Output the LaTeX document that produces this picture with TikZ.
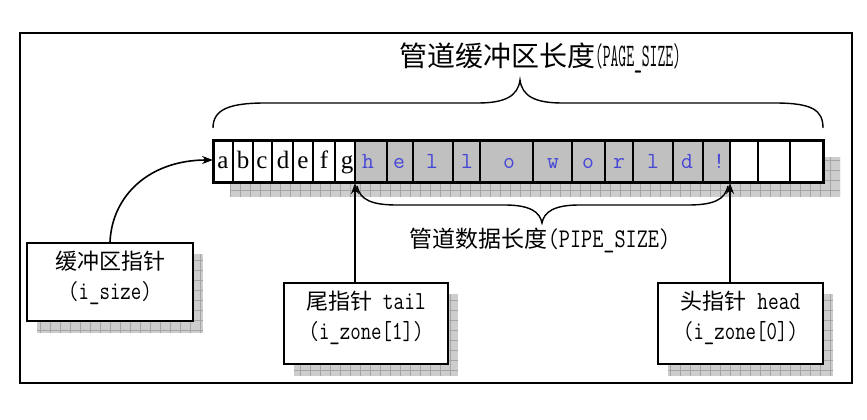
\documentclass[tikz,border=0pt]{standalone}
\usepackage{fontspec}
\usepackage{graphicx}
\setmainfont{Liberation Serif}
\newfontfamily\cjk{Noto Sans CJK SC}
\usetikzlibrary{arrows.meta}
\definecolor{cellgray}{RGB}{192,192,192}
\definecolor{shadegray}{RGB}{205,205,205}
\definecolor{gridgray}{RGB}{165,165,165}
\definecolor{bluetxt}{RGB}{70,70,215}
\newcommand\shadowrect[4]{%
  \fill[shadegray] (#1,#2) rectangle (#3,#4);
  \begin{scope}
    \clip (#1,#2) rectangle (#3,#4);
    \draw[gridgray,line width=0.6pt,step=10pt] (#1,#2) grid (#3,#4);
  \end{scope}}
% condensed mono text: #1 = size, #2 = horizontal scale, #3 = text
\newcommand\cmono[3]{\scalebox{#2}[1]{\fontsize{#1}{30}\selectfont\ttfamily #3}}
\begin{document}
\begin{tikzpicture}[x=1pt,y=-1pt,
  boxnode/.style={draw,line width=1.8pt,fill=white,inner sep=0pt},
  boxtext/.style={align=center,font=\fontsize{22}{30}\selectfont,inner sep=0pt},
  blk/.style={anchor=base,inner sep=0pt,font=\fontsize{25}{26}\selectfont},
  blu/.style={anchor=base,inner sep=0pt,text=bluetxt,font=\fontsize{23}{24}\selectfont\ttfamily},
  arr/.style={line width=1.6pt,-{Stealth[length=11pt,width=8pt]}},
  bracestyle/.style={line width=1.4pt}]
\fill[white] (0,0) rectangle (867,420);
\useasboundingbox (0,0) rectangle (867,420);
% outer frame
\draw[line width=1.4pt] (20,33) rectangle (852,383);

% strip shadow
\shadowrect{230}{157}{840}{197}
% strip
\fill[white] (213,140) rectangle (823,182);
\fill[cellgray] (355,140) rectangle (730,182);
\foreach \xa/\xb in {213/233,233/253,253/272,272/293,293/313,313/335,335/355,355/387,387/413,413/453,453/480,480/533,533/572,572/605,605/633,633/673,673/703,703/730,730/758,758/790,790/823}
  \draw[line width=2.2pt] (\xa,140) rectangle (\xb,182);
\draw[line width=3pt] (213,140) rectangle (823,182);
\foreach \x/\c [count=\i] in {223/a,243/b,262/c,283/d,303/e,324/f,347/g}
  \node[blk] (L\i) at (\x,168) {\c};
\foreach \x/\c [count=\i] in {368/h,399/e,432/l,467/l,509/o,553/w,588/o,619/r,653/l,687/d,719/!}
  \node[blu] (B\i) at (\x,168) {\c};
\coordinate (stripin) at (213,160);
\coordinate (tailpt) at (355,183);
\coordinate (headpt) at (730,183);

% top brace
\draw[bracestyle] (213,128) .. controls (213,110) and (228,103) .. (265,103)
  -- (478,103) .. controls (505,103) and (518,96) .. (520,80)
  .. controls (522,96) and (535,103) .. (562,103)
  -- (775,103) .. controls (812,103) and (823,110) .. (823,128);
\node[inner sep=0pt] (pagesize) at (540,58)
  {\fontsize{28}{30}\selectfont\cjk 管道缓冲区长度\cmono{33}{0.46}{(PAGE\_SIZE)}};

% lower brace
\draw[bracestyle] (357,186) .. controls (360,200) and (372,205) .. (397,205)
  -- (505,205) .. controls (530,205) and (540,212) .. (542,223)
  .. controls (544,212) and (554,205) .. (579,205)
  -- (688,205) .. controls (713,205) and (725,200) .. (728,186);
\node[inner sep=0pt] (pipesize) at (540,240)
  {\fontsize{23}{26}\selectfont\cjk 管道数据长度\cmono{27}{0.8}{(PIPE\_SIZE)}};

% boxes with shadows
\shadowrect{37}{254}{203}{333}
\node[boxnode,minimum width=166pt,minimum height=78pt] (box1) at (110,282) {};
\node[boxtext] (t1) at (110,277.5) {\cjk 缓冲区指针\\\cmono{26}{0.78}{(i\_size)}};

\shadowrect{294}{294}{458}{376}
\node[boxnode,minimum width=164pt,minimum height=81pt] (box2) at (366,323.5) {};
\node[boxtext] (t2) at (366,317.5) {\cjk 尾指针\cmono{26}{0.8}{\ tail}\\\cmono{26}{0.78}{(i\_zone[1])}};

\shadowrect{668}{294}{833}{376}
\node[boxnode,minimum width=165pt,minimum height=81pt] (box3) at (740.5,323.5) {};
\node[boxtext] (t3) at (740.5,318) {\cjk 头指针\cmono{26}{0.8}{\ head}\\\cmono{26}{0.78}{(i\_zone[0])}};

% arrows
\draw[arr] (box1.north) .. controls (112,195) and (150,160) .. (stripin);
\draw[arr] (tailpt |- box2.north) -- (tailpt);
\draw[arr] (headpt |- box3.north) -- (headpt);
\end{tikzpicture}
\end{document}
